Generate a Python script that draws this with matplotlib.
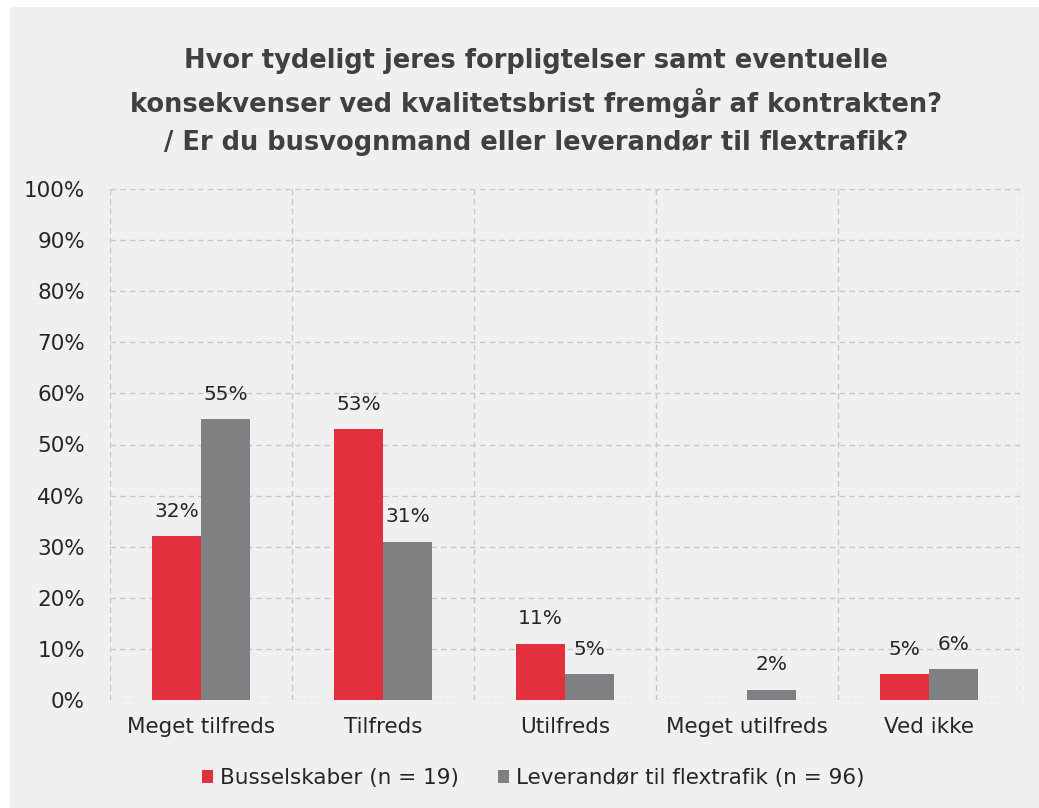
import matplotlib
matplotlib.use("Agg")
from matplotlib import pyplot as plt
import numpy as np

categories = ["Meget tilfreds", "Tilfreds", "Utilfreds", "Meget utilfreds", "Ved ikke"]
bus = [32, 53, 11, 0, 5]
flex = [55, 31, 5, 2, 6]
bus_name = "Busselskaber (n = 19)"
flex_name = "Leverandør til flextrafik (n = 96)"
title = ("Hvor tydeligt jeres forpligtelser samt eventuelle\n"
         "konsekvenser ved kvalitetsbrist fremgår af kontrakten?\n"
         "/ Er du busvognmand eller leverandør til flextrafik?")

red = "#E3303D"
grey = "#7F8083"
bg = "#F0F0F0"

fig = plt.figure(figsize=(10.39, 8.08), dpi=100)
fig.patch.set_facecolor("white")
# grey panel behind everything
fig.patches.append(plt.Rectangle((10 / 1039, 0), 1, 1 - 7 / 808, transform=fig.transFigure,
                                 facecolor=bg, edgecolor="none", zorder=-10))

ax = fig.add_axes([110 / 1039, 1 - 700 / 808, 910 / 1039, 511 / 808])
ax.set_facecolor(bg)

x = np.arange(len(categories))
w = 0.27
b1 = ax.bar(x - w / 2, bus, w, color=red, zorder=3, label=bus_name)
b2 = ax.bar(x + w / 2, flex, w, color=grey, zorder=3, label=flex_name)

for bars, vals in ((b1, bus), (b2, flex)):
    for r, v in zip(bars, vals):
        if v == 0:
            continue
        ax.text(r.get_x() + r.get_width() / 2, v + 3, f"{v}%", ha="center", va="bottom",
                fontsize=14.5, color="#262626")

ax.set_xlim(-0.5, len(categories) - 0.5)
ax.set_ylim(0, 100)
ax.set_yticks(np.arange(0, 101, 10))
ax.set_yticklabels([f"{t}%" for t in range(0, 101, 10)])
ax.set_xticks(x)
ax.set_xticklabels(categories)
ax.tick_params(axis="both", length=0, labelsize=15.5, colors="#262626")
ax.tick_params(axis="y", pad=18)
ax.tick_params(axis="x", pad=12)

for s in ax.spines.values():
    s.set_visible(False)
ax.grid(axis="y", color="#C8C8C8", linestyle=(0, (4, 3)), linewidth=1, zorder=0)
for xb in np.arange(-0.5, len(categories), 1.0):
    ax.axvline(xb, color="#C8C8C8", linestyle=(0, (4, 3)), linewidth=1, zorder=0)

fig.text(536 / 1039, 1 - 102 / 808, title, ha="center", va="center", fontsize=18.5,
         fontweight="bold", color="#404040", linespacing=1.6)

leg = fig.legend(handles=[b1, b2], loc="center", bbox_to_anchor=(533 / 1039, 1 - 778 / 808),
                 ncol=2, frameon=False, fontsize=15.5, handlelength=0.55, handleheight=0.55,
                 handletextpad=0.3, columnspacing=1.8)
for t in leg.get_texts():
    t.set_color("#262626")

fig.savefig("out.png", dpi=100, facecolor=fig.get_facecolor())
